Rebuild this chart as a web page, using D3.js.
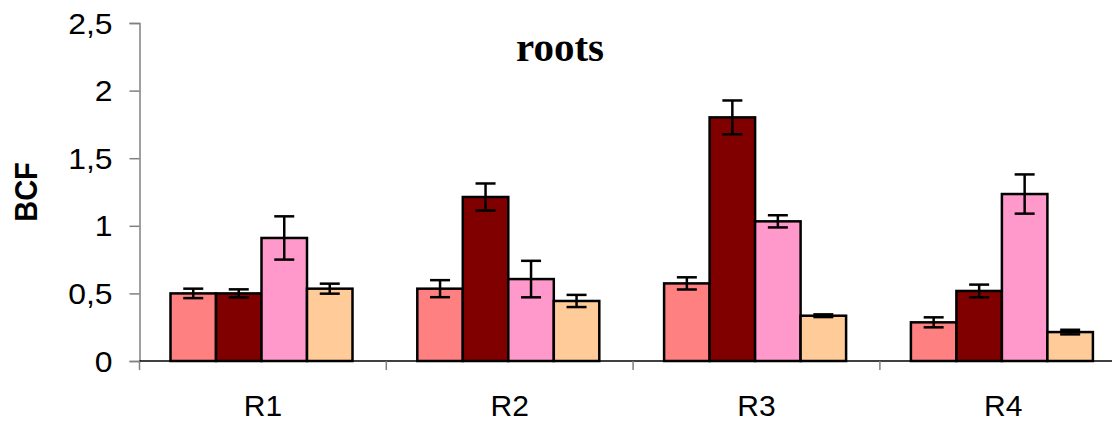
<!DOCTYPE html>
<html><head><meta charset="utf-8">
<script src="https://cdn.jsdelivr.net/npm/d3@7"></script>
<style>body{margin:0;background:#fff}svg{display:block}</style>
</head><body><svg id="c" width="1112" height="421"></svg>
<script>
const categories = ["R1","R2","R3","R4"];
const seriesNames = ["s1","s2","s3","s4"];
const values = [
  [0.50, 0.50, 0.91, 0.535],
  [0.535, 1.213, 0.606, 0.444],
  [0.574, 1.802, 1.033, 0.335],
  [0.286, 0.518, 1.235, 0.214]
];
const errors = [
  [0.035, 0.03, 0.16, 0.037],
  [0.063, 0.10, 0.135, 0.045],
  [0.045, 0.125, 0.045, 0.01],
  [0.037, 0.047, 0.145, 0.017]
];
const yTicks = [0, 0.5, 1, 1.5, 2, 2.5];
const colors = ["#FF8080", "#800000", "#FF99CC", "#FFCC99"];

const svg = d3.select("#c");
const x0 = d3.scaleBand().domain(categories).range([139.5, 139.5 + 4 * 246.8]);
const bw = x0.bandwidth();
const x1 = d3.scaleBand().domain(seriesNames).range([31, 31 + 182]);
const y = d3.scaleLinear().domain([0, 2.5]).range([361, 23]);
const fmt = d => String(d).replace(".", ",");

// y axis
const ya = svg.append("g").attr("transform", "translate(139.5,0)")
  .call(d3.axisLeft(y).tickValues(yTicks).tickSize(10).tickPadding(17).tickFormat(fmt));
ya.select(".domain").attr("stroke", "#808080").attr("stroke-width", 1.5);
ya.selectAll(".tick line").attr("stroke", "#808080").attr("stroke-width", 1.5);
ya.selectAll(".tick text").attr("font-family", "Liberation Sans, Arial, sans-serif")
  .attr("font-size", 29).attr("fill", "#000").attr("dy", "0.35em")
  .attr("transform", "scale(1.1,1)").attr("text-anchor", "end")
  .attr("x", -27 / 1.1);

// x axis line
svg.append("line").attr("x1", 139.5).attr("x2", 1112).attr("y1", 361).attr("y2", 361)
  .attr("stroke", "#000").attr("stroke-width", 1.5);
// x ticks at boundaries
const bounds = categories.map(c => x0(c));
svg.append("g").selectAll("line").data(bounds).join("line")
  .attr("x1", d => d).attr("x2", d => d).attr("y1", 361).attr("y2", 370)
  .attr("stroke", "#808080").attr("stroke-width", 1.5);
// category labels
svg.append("g").selectAll("text").data(categories).join("text")
  .attr("x", d => x0(d) + bw / 2).attr("y", 416)
  .attr("text-anchor", "middle")
  .attr("font-family", "Liberation Sans, Arial, sans-serif").attr("font-size", 30)
  .text(d => d);

// bars
const groups = svg.append("g").selectAll("g").data(categories).join("g")
  .attr("transform", d => `translate(${x0(d)},0)`);
groups.each(function (cat, ci) {
  const g = d3.select(this);
  seriesNames.forEach((s, si) => {
    const v = values[ci][si], e = errors[ci][si];
    const bx = x1(s), w = x1.bandwidth();
    g.append("rect").attr("x", bx).attr("y", y(v)).attr("width", w).attr("height", y(0) - y(v))
      .attr("fill", colors[si]).attr("stroke", "#000").attr("stroke-width", 2.5);
    const cx = bx + w / 2;
    g.append("line").attr("x1", cx).attr("x2", cx).attr("y1", y(v + e)).attr("y2", y(v - e))
      .attr("stroke", "#000").attr("stroke-width", 2.5);
    [v + e, v - e].forEach(t => g.append("line").attr("x1", cx - 10).attr("x2", cx + 10)
      .attr("y1", y(t)).attr("y2", y(t)).attr("stroke", "#000").attr("stroke-width", 2.5));
  });
});

// title
svg.append("text").attr("x", 560).attr("y", 61).attr("text-anchor", "middle")
  .attr("font-family", "Liberation Serif, Times New Roman, serif").attr("font-weight", "bold")
  .attr("font-size", 41).text("roots");
// y label
svg.append("text").attr("transform", "translate(37,192) rotate(-90) scale(1,1.1)")
  .attr("text-anchor", "middle")
  .attr("font-family", "Liberation Sans, Arial, sans-serif").attr("font-weight", "bold")
  .attr("font-size", 29).text("BCF");
</script></body></html>
